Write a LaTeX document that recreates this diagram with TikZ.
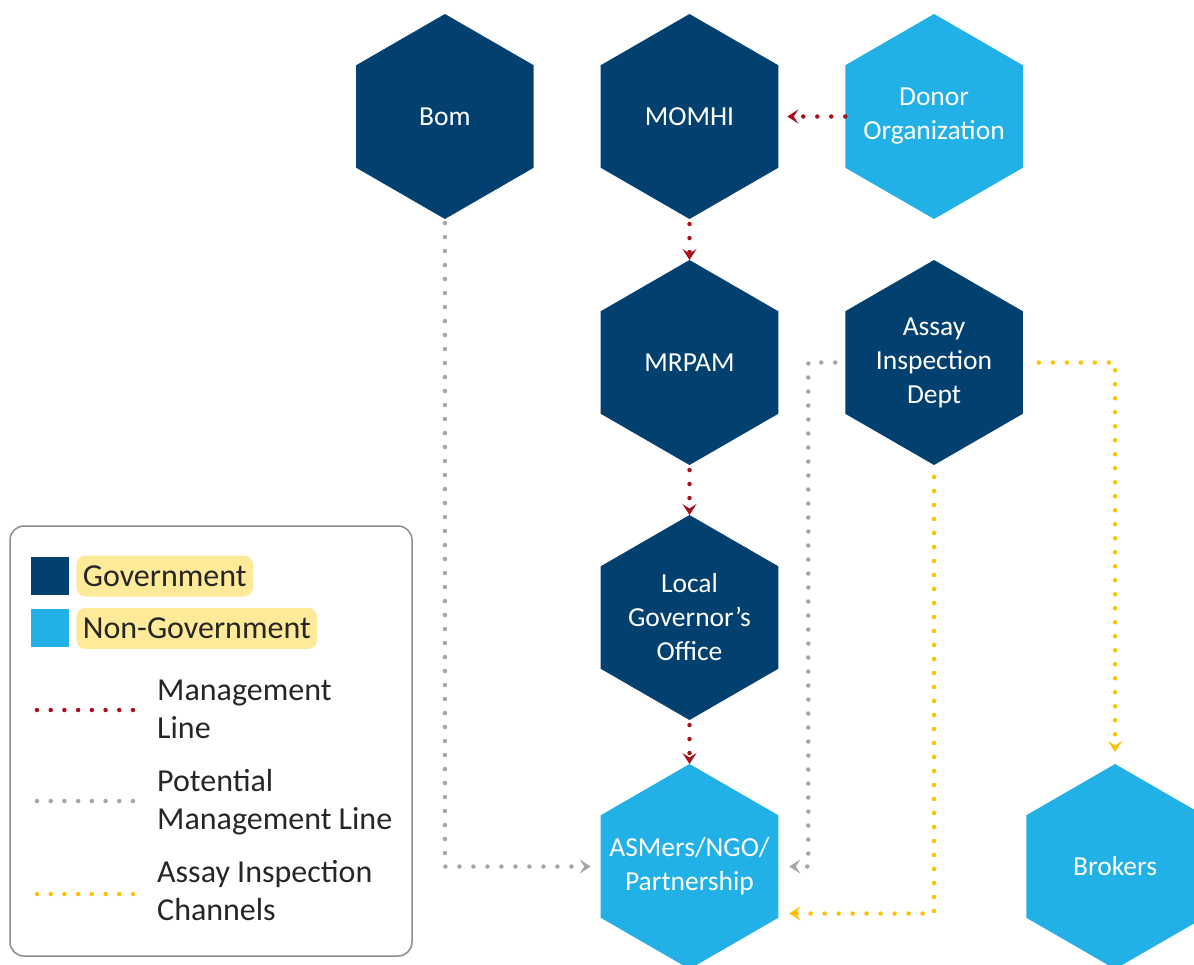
\documentclass[tikz,border=0pt]{standalone}
\usepackage{fontspec}
\setmainfont{Carlito}
\usetikzlibrary{arrows.meta, positioning, shapes.geometric}

\definecolor{govblue}{HTML}{02416F}
\definecolor{ngoblue}{HTML}{22B1E6}
\definecolor{mgmtred}{HTML}{A8101E}
\definecolor{potgray}{HTML}{A6A6A6}
\definecolor{assayyellow}{HTML}{FFC000}
\definecolor{hilite}{HTML}{FFEA99}
\definecolor{legtext}{HTML}{262626}
\definecolor{legborder}{HTML}{8C8C8C}

\begin{document}
\begin{tikzpicture}[
  x=1pt, y=-1pt,
  node distance=45pt and 67pt,
  hexa/.style={regular polygon, regular polygon sides=6, shape border rotate=30, minimum size=205pt, inner sep=0pt, outer sep=0pt},
  hextext/.style={text=white, align=center, inner sep=0pt, font=\fontsize{27.5}{34}\selectfont},
  gov/.style={hexa, fill=govblue, label={[hextext]center:{#1}}},
  nongov/.style={hexa, fill=ngoblue, label={[hextext]center:{#1}}},
  dots/.style={line width=4.5pt, line cap=round, dash pattern=on 0pt off 14pt},
  chev/.style={-{Stealth[length=11pt, width=14pt, inset=4.5pt]}},
  mgmt/.style={dots, chev, draw=mgmtred},
  potline/.style={dots, chev, draw=potgray},
  assayline/.style={dots, chev, draw=assayyellow},
  legsq/.style={rectangle, minimum size=38pt, inner sep=0pt},
  legtag/.style={rectangle, fill=hilite, rounded corners=9pt, minimum height=41pt, inner xsep=6.5pt, inner ysep=0pt, text=legtext, font=\fontsize{32}{38}\selectfont},
  legitem/.style={anchor=west, align=left, inner sep=0pt, text=legtext, font=\fontsize{32}{38}\selectfont},
  legsample/.style={line width=4.5pt, line cap=round, dash pattern=on 0pt off 13.714pt},
]
\useasboundingbox (0,0) rectangle (1194,964);

% Hexagons
\node[gov=MOMHI] (momhi) at (689.5,116.5) {};
\node[gov=Bom, left=of momhi] (bom) {};
\node[nongov={Donor\\Organization}, right=of momhi] (donor) {};
\node[gov=MRPAM, below=41pt of momhi] (mrpam) {};
\node[gov={Assay\\Inspection\\Dept}, right=of mrpam] (assay) {};
\node[gov={Local\\Governor’s\\Office}, below=50pt of mrpam] (local) {};
\node[nongov={ASMers/NGO/\\Partnership}, below=44pt of local] (asm) {};
\node[nongov=Brokers, right=248pt of asm] (brokers) {};

% Connections
\draw[mgmt, shorten >=9pt] (donor) -- (momhi);
\draw[mgmt, shorten <=5pt] (momhi) -- (mrpam);
\draw[mgmt, shorten <=5pt] (mrpam) -- (local);
\draw[mgmt, shorten <=5pt] (local) -- (asm);

\coordinate (potbend) at ([xshift=-37pt]assay.west);
\draw[potline, shorten <=4pt, shorten >=10pt] (bom) |- (asm);
\draw[potline, shorten <=10pt, shorten >=11pt] (assay) -- (potbend) |- (asm);

\draw[assayline, shorten <=12pt, shorten >=11pt] (assay) |- ([yshift=-47pt]asm.east);
\draw[assayline, shorten <=16pt, shorten >=12pt] (assay) -| (brokers);

% Legend
\draw[legborder, line width=1.5pt, rounded corners=14pt] (10,526) rectangle (412,956);
\node[legsq, fill=govblue] (sqgov) at (50,576) {};
\node[legtag, right=7pt of sqgov] (tgov) {Government};
\node[legsq, fill=ngoblue, below=14pt of sqgov] (sqngo) {};
\node[legtag, right=7pt of sqngo] (tngo) {Non-Government};

\node[legitem] (tmgmt) at (157,709) {Management\\Line};
\node[legitem] (tpot) at (157,802) {Potential\\Management Line};
\node[legitem] (tassay) at (157,891) {Assay Inspection\\Channels};

\coordinate (lmgmt) at (37,710);
\coordinate (lpot) at (37,801);
\coordinate (lassay) at (37,894);
\draw[legsample, mgmtred] (lmgmt) -- ++(96,0);
\draw[legsample, potgray] (lpot) -- ++(96,0);
\draw[legsample, assayyellow] (lassay) -- ++(96,0);

\end{tikzpicture}
\end{document}
